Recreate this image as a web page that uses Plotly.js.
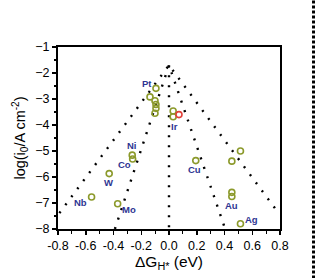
<!DOCTYPE html>
<html>
<head>
<meta charset="utf-8">
<script src="https://cdn.plot.ly/plotly-3.0.1.min.js"></script>
<style>html,body{margin:0;padding:0;background:#fff;}#chart{width:315px;height:278px;}</style>
</head>
<body>
<div id="chart"></div>
<script>
// Metals (olive open circles)
const metalX = [-0.094, -0.137, -0.101, -0.094, -0.094, -0.101, 0.03, 0.03, -0.265, -0.262, -0.431, -0.558, -0.370, 0.193, 0.515, 0.453, 0.453, 0.453, 0.515];
const metalY = [-2.59, -2.92, -3.07, -3.21, -3.36, -3.55, -3.46, -3.68, -5.16, -5.31, -5.87, -6.77, -7.03, -5.37, -5.00, -5.39, -6.59, -6.75, -7.80];
// Highlighted point (red open circle)
const redX = [0.072];
const redY = [-3.60];
// Dotted volcano lines
const outerX = [-0.79, 0, 0.79];
const outerY = [-7.39, -1.7, -7.39];
const innerX = [-0.39, 0, 0.405];
const innerY = [-8, -1.7, -8];
const centerX = [0, 0];
const centerY = [-1.7, -8];
// Labels
const labelText = ["Pt", "Ir", "Ni", "Co", "W", "Nb", "Mo", "Cu", "Au", "Ag"];
const labelX = [-0.161, 0.043, -0.269, -0.318, -0.438, -0.635, -0.289, 0.183, 0.453, 0.592];
const labelY = [-2.40, -4.04, -4.77, -5.53, -6.23, -6.98, -7.26, -5.72, -7.10, -7.64];

const dotLine = {color: '#000', width: 2.4, dash: '2px,8px'};
const traces = [
  {x: outerX, y: outerY, mode: 'lines', line: dotLine, hoverinfo: 'skip', showlegend: false},
  {x: innerX, y: innerY, mode: 'lines', line: dotLine, hoverinfo: 'skip', showlegend: false},
  {x: centerX, y: centerY, mode: 'lines', line: dotLine, hoverinfo: 'skip', showlegend: false},
  {x: metalX, y: metalY, mode: 'markers', showlegend: false,
   marker: {symbol: 'circle-open', size: 6, color: '#8c9a2c', line: {width: 1.6, color: '#8c9a2c'}}},
  {x: redX, y: redY, mode: 'markers', showlegend: false,
   marker: {symbol: 'circle-open', size: 6, color: '#e2403a', line: {width: 1.6, color: '#e2403a'}}}
];

const annotations = labelText.map((t, i) => ({
  x: labelX[i], y: labelY[i], xref: 'x', yref: 'y', text: t, showarrow: false,
  font: {family: 'Liberation Sans, Arial, sans-serif', size: 9.5, color: '#2e3592', weight: 'bold'}
}));

const axisFont = {family: 'Liberation Sans, Arial, sans-serif', size: 12.5, color: '#000'};
const layout = {
  width: 315, height: 278,
  margin: {l: 58, r: 35, t: 47, b: 49},
  paper_bgcolor: '#fff', plot_bgcolor: '#fff',
  showlegend: false,
  xaxis: {
    range: [-0.8, 0.8], tickvals: [-0.8, -0.6, -0.4, -0.2, 0, 0.2, 0.4, 0.6, 0.8],
    ticktext: ['-0.8', '-0.6', '-0.4', '-0.2', '0.0', '0.2', '0.4', '0.6', '0.8'],
    ticks: 'outside', ticklen: 4, tickwidth: 1.5, tickcolor: '#000',
    minor: {dtick: 0.1, ticks: 'outside', ticklen: 2.5, tickwidth: 1.2, tickcolor: '#000', showgrid: false},
    showline: true, linewidth: 2, linecolor: '#000', mirror: true,
    showgrid: false, zeroline: false, tickfont: axisFont,
    title: {text: 'ΔG<sub>H*</sub> (eV)', font: {family: 'Liberation Sans, Arial, sans-serif', size: 15.5, color: '#000'}, standoff: 4}
  },
  yaxis: {
    range: [-8, -1], tickvals: [-8, -7, -6, -5, -4, -3, -2, -1],
    ticks: 'outside', ticklen: 4, tickwidth: 1.5, tickcolor: '#000',
    minor: {dtick: 0.5, ticks: 'outside', ticklen: 2.5, tickwidth: 1.2, tickcolor: '#000', showgrid: false},
    showline: true, linewidth: 2, linecolor: '#000', mirror: true,
    showgrid: false, zeroline: false, tickfont: axisFont,
    title: {text: 'log(i<sub>0</sub>/A cm<sup>-2</sup>)', font: {family: 'Liberation Sans, Arial, sans-serif', size: 14.5, color: '#000'}, standoff: 6}
  },
  annotations: annotations,
  shapes: [{type: 'line', xref: 'paper', yref: 'paper', x0: 1.151, x1: 1.151, y0: -0.3, y1: 1.3,
            line: {color: '#000', width: 3, dash: '3px,2px'}}]
};
Plotly.newPlot('chart', traces, layout, {staticPlot: true, displayModeBar: false});
</script>
</body>
</html>
